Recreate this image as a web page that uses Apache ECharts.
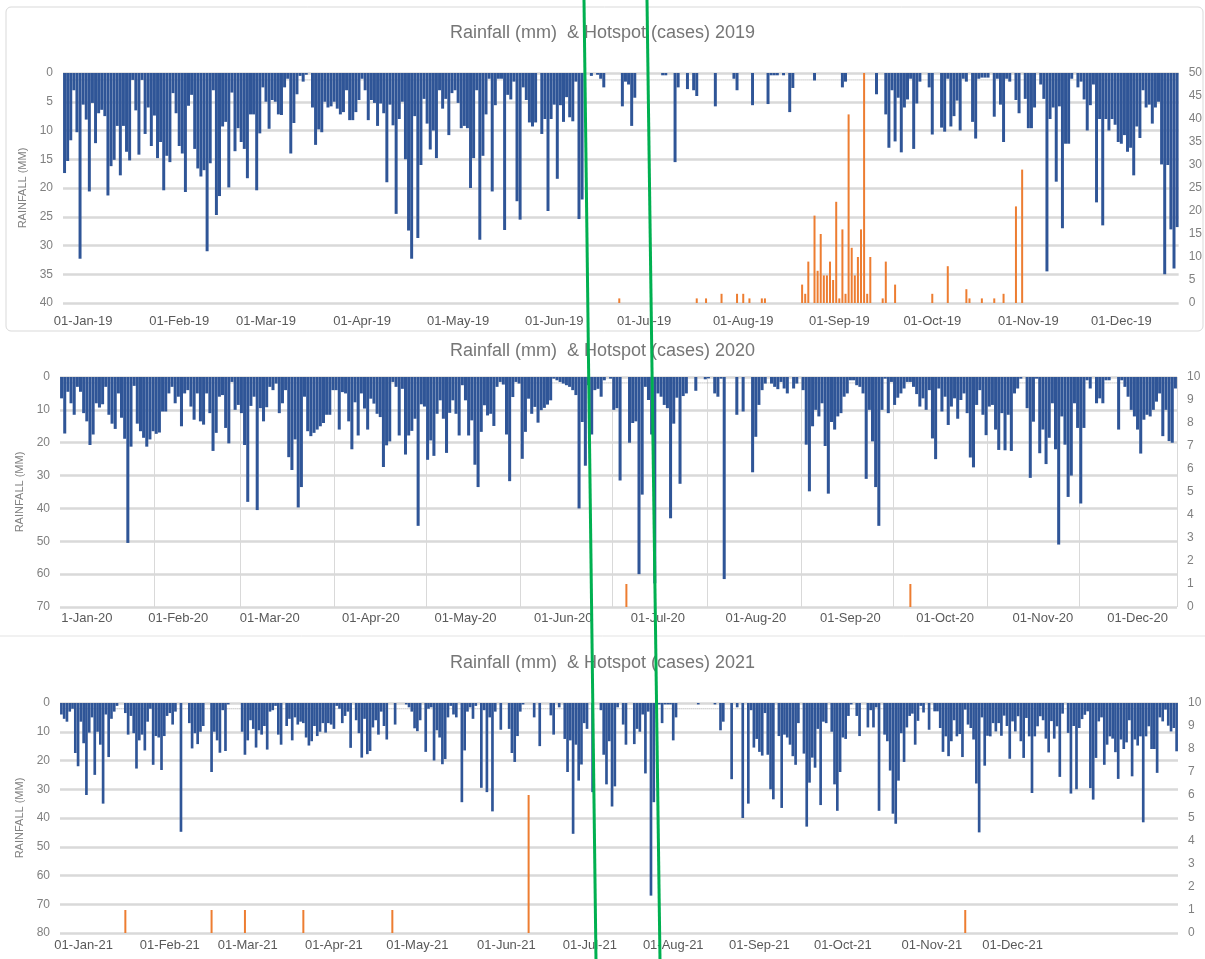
<!DOCTYPE html>
<html>
<head>
<meta charset="utf-8">
<script src="https://cdn.jsdelivr.net/npm/echarts@6.0.0/dist/echarts.min.js"></script>
<style>
  html, body { margin: 0; padding: 0; background: #fff; }
  #chart { width: 1205px; height: 959px; }
</style>
</head>
<body>
<div id="chart"></div>
<script>
// daily rainfall (mm), one value per day on the category axis
const rain2019 = [
  17.4, 15.3, 11.7, 3, 10.3, 32.3, 5.5, 8.1, 20.6, 5.2,
  12.2, 7, 6.4, 7.5, 21.3, 16.2, 15.1, 9.2, 17.8, 9.2,
  13.7, 15.2, 1.2, 6.5, 14.2, 1.2, 10.6, 6, 12.7, 7.4,
  14.8, 12, 20.4, 14.4, 15.5, 3.5, 7, 12.7, 14, 20.7,
  5.7, 3.8, 13.2, 16.6, 18, 16.9, 31, 15.7, 3, 24.7,
  21.4, 9.3, 8.5, 19.9, 3.4, 13.6, 9.6, 12, 13.2, 18.3,
  7.2, 7.2, 20.4, 10.5, 2.5, 5, 9.7, 4.7, 5, 7.2,
  7.3, 2.5, 1, 14, 8.7, 3.7, 0.5, 1.5, 0.3, 0,
  6, 12.5, 9.8, 10.3, 5, 6, 5.8, 5, 6.2, 7.2,
  6.8, 3, 8.2, 8.2, 6.8, 4.7, 1, 3, 8.2, 4.7,
  5.2, 9.2, 5.3, 7, 19, 5.5, 9.1, 24.5, 8, 5,
  15, 27.4, 32.3, 7.5, 28.7, 16, 4.5, 8.8, 13.3, 10,
  14.8, 3, 6.2, 4.5, 10.8, 3.5, 3, 5.2, 9.6, 9.2,
  9.6, 20, 14.8, 3, 29, 14.4, 7.2, 1, 20.6, 5.6,
  1, 1, 27.3, 3.8, 4.6, 1.5, 22.3, 25.5, 2.5, 4.7,
  8.6, 9.3, 8.6, 0, 10.6, 8, 24, 8, 5.5, 18.4,
  5.6, 8.5, 4.2, 7.7, 8.4, 1.5, 25.4, 22, 0, 0,
  0.5, 0, 0.3, 1, 2.5, 0, 0, 0, 0, 0,
  5.8, 1.5, 2, 9.2, 4.3, 0, 0, 0, 0, 0,
  0, 0, 0, 0.4, 0.4, 0, 0, 15.5, 2.5, 0,
  0, 2.8, 0, 3, 4, 0, 0, 0, 0, 0,
  5.8, 0, 0, 0, 0, 0, 1, 3, 0, 0,
  0, 0, 5.6, 0, 0, 0, 0, 5.4, 0.4, 0.4,
  0.4, 0, 0.4, 0, 6.8, 2.6, 0, 0, 0, 0,
  0, 0, 1.3, 0, 0, 0, 0, 0, 0, 0,
  0, 2.5, 1.5, 0, 0, 0, 0, 0, 0, 0,
  0, 0, 3.7, 0, 0, 7.2, 13, 3, 11.9, 4.3,
  13.8, 6, 4.6, 1, 13.2, 5.3, 1.5, 0, 0, 2.5,
  10.7, 0, 0, 9.5, 10.2, 1, 9.3, 7.5, 4.8, 10,
  1, 1.5, 0, 8.5, 11.4, 1, 0.8, 0.8, 0.8, 0,
  7.6, 1, 5.5, 12, 1, 1.5, 0, 4.7, 7, 0,
  4.5, 9.6, 9.6, 6, 0, 2, 4.5, 34.5, 8, 6,
  18.9, 5.8, 27, 12.3, 12.3, 1, 0, 2.5, 1.5, 4.6,
  10, 5.6, 2, 22.5, 8, 26.5, 8, 10, 8, 9,
  12, 12.3, 10.8, 13.7, 13, 17.8, 9.3, 11.3, 3, 6,
  5.5, 8.8, 6, 5, 15.9, 35, 16, 27.2, 34, 26.8
];
const rain2020 = [
  6.5, 17.2, 4.5, 8, 11.5, 3, 4.5, 11, 13.5, 20.7,
  17.5, 8, 9.3, 8.3, 3, 11.5, 14.2, 15.8, 5, 12.4,
  18.8, 50.5, 21.2, 2.7, 14.2, 16.5, 18.5, 21.2, 19, 16.5,
  17.3, 16.9, 10.5, 10.5, 5, 3, 8, 6, 15, 5,
  4, 9, 13, 5, 13.5, 14.5, 5, 11, 22.5, 17,
  6, 5.5, 15.5, 20.2, 1.5, 10, 8.5, 11, 20.7, 38,
  8.8, 6, 40.5, 9.5, 13.5, 9.2, 3, 4, 2, 11,
  8, 4, 24.4, 28.3, 19, 39.7, 33.5, 6, 16.5, 18,
  17, 16, 15, 14, 11.5, 11.5, 4, 4, 16, 4.6,
  5, 13.5, 22, 7.7, 17.8, 5, 9.6, 16, 6.6, 8.1,
  11.2, 12.2, 27.4, 20.8, 19.6, 1.5, 3, 17.8, 3.6, 23.6,
  17.8, 16.4, 12.7, 45.3, 8.3, 9, 25.2, 19.3, 24, 11.2,
  7.1, 12.7, 23.1, 10.9, 7.1, 11.2, 17.8, 2.5, 7.1, 17.8,
  13.2, 26.7, 33.5, 16.7, 8.6, 11.7, 11.2, 14.9, 3, 1.5,
  2.3, 17.5, 31.7, 6.1, 1.5, 2, 24.9, 16.7, 6.6, 11.2,
  9.1, 13.9, 10.1, 9.4, 8.4, 7.1, 0.5, 1, 1.5, 2,
  2.5, 3, 4, 5.5, 40, 13.7, 27, 2.5, 17.5, 4,
  3.6, 6, 1, 0, 0.5, 10, 9.5, 31.5, 0, 0,
  20, 14, 13.5, 60, 35.8, 3, 7, 17.5, 62.8, 5,
  6, 8.5, 9.5, 43, 14.2, 6.3, 32.5, 5.8, 5, 0,
  0, 4.2, 0, 0, 0.7, 0.4, 0, 5, 6, 0.5,
  61.5, 0, 0, 0, 11.5, 0, 10.5, 0, 0, 29,
  18.2, 8.5, 4, 2, 0, 2, 3, 3.7, 1.5, 3.5,
  5, 0, 3.5, 2, 0, 4, 20.6, 34.8, 15, 10,
  12, 8, 21, 35.5, 13.7, 16, 12, 11, 6, 5,
  1, 1, 2.5, 3, 5, 31, 10, 19.6, 33.5, 45.3,
  10, 0.5, 11, 1.5, 8.5, 6.3, 5, 3.5, 1.5, 1.5,
  3, 5.2, 9, 6.5, 10, 4, 18.7, 25, 3.5, 10.5,
  6, 14.6, 9, 6.5, 12.7, 7, 5, 11, 24.5, 27.5,
  8.5, 4, 11.5, 17.7, 9, 8.5, 16, 22.2, 11, 22.3,
  11.5, 22.5, 5, 3.5, 0.5, 0, 9.5, 30.7, 13.6, 0.5,
  23.2, 16, 26.5, 18.5, 8, 22, 51, 12, 20.6, 36.5,
  30, 8, 15.5, 38.5, 15.5, 1, 3.5, 0, 8, 6.5,
  8, 1, 1, 0, 0, 16, 1, 3, 6, 10,
  12, 16, 23.3, 13, 11.5, 12, 10, 7.5, 5, 18,
  10, 19.5, 20, 3.5
];
const rain2021 = [
  4, 5.5, 6.5, 3, 2, 17.4, 22, 6.5, 14, 32,
  10.3, 5, 25, 10, 14.5, 35, 4, 18.8, 5.5, 3,
  1, 0, 0, 3.5, 11, 4.5, 10.5, 22.8, 13, 11,
  16.5, 6.5, 2, 21.5, 11.5, 12, 23.3, 11.5, 4.5, 3.5,
  7.5, 3, 0, 44.8, 0, 0, 7, 15.8, 10.5, 14.3,
  10, 8, 0, 0, 24, 10, 13, 17.3, 2.5, 16.7,
  0.5, 0, 0, 0, 0, 10, 18, 13, 6, 9,
  15.5, 9.5, 11, 8, 16.2, 3, 2.5, 1, 11, 14.5,
  0, 8, 5.5, 13, 5, 7.5, 6.5, 7, 12, 14.8,
  13.3, 8, 11.5, 10, 7, 10.3, 7, 7.5, 9, 1,
  2, 7, 4.5, 3, 15.6, 0, 6, 10.5, 19, 5.5,
  17.8, 16.7, 8.5, 6, 11, 3, 8, 12.7, 0, 0,
  7.5, 0, 0, 0, 0.5, 1.5, 3, 8.8, 9.8, 6,
  0, 17, 2, 1.5, 20, 9.5, 12, 21.3, 19.5, 5,
  1, 4, 5, 0, 34.5, 16.5, 3, 1.5, 5.5, 1,
  0, 29.5, 2.5, 31, 5, 37.7, 3, 0, 9.3, 0,
  0, 9, 17.4, 20.5, 11.5, 3, 0.5, 0, 0, 0,
  5, 0, 15, 0, 0, 0, 4.3, 11, 0, 1.5,
  0, 12.5, 24, 13, 45.5, 14.5, 27, 21.4, 7, 9,
  0, 31, 0, 0, 2.5, 18, 28.3, 13.3, 36, 29,
  1.5, 0, 7.5, 14.5, 0, 0, 14.3, 9, 10, 4,
  24.5, 3, 67, 34.5, 0, 0.5, 7, 0.5, 0.5, 0.5,
  13, 5, 0, 0, 0, 0, 0, 0, 0, 0.5,
  0, 0, 0, 0, 0, 0.5, 0, 9.5, 6.5, 0,
  0, 26.5, 0, 1.5, 0, 40, 0, 35, 2.5, 15.5,
  12.5, 17, 18.3, 3.5, 18, 30, 33.5, 0, 11.5, 36.5,
  11, 12, 14.5, 18.5, 21.5, 7, 0, 17.6, 43, 27.7,
  19, 22.5, 9, 35.5, 6.5, 7, 0, 10, 28.3, 37.5,
  24, 12, 12.5, 4.5, 0.5, 0, 4.5, 11.5, 0, 0,
  8.5, 2.5, 8.5, 1.5, 37.5, 0, 11, 13.3, 23.5, 38.5,
  42, 27, 10.5, 20.5, 8.5, 4.5, 3.7, 14.5, 6.2, 1,
  3.3, 0, 9.3, 0, 2.9, 2.9, 8.7, 17, 11.6, 18.5,
  13.3, 6, 11.6, 10.8, 18.8, 2.3, 7.5, 8.7, 12.7, 28,
  45, 5, 21.8, 11.4, 11.6, 7, 9.9, 7, 11.4, 4.4,
  8, 19.4, 6.4, 9.9, 4.6, 13.3, 19.1, 5.2, 11.6, 31.3,
  11.6, 8.1, 4.6, 6, 12.4, 17.2, 6.3, 12.4, 8.1, 25.7,
  3.7, 0, 10.4, 31.5, 8, 30, 8.7, 5.6, 4.1, 2.9,
  29.6, 33.6, 19.1, 6.4, 5, 21.5, 14.5, 11.6, 12.4, 17.1,
  26.4, 12.7, 16, 13.7, 6, 25.5, 12.7, 14.8, 11.6, 41.5,
  11.6, 8.1, 16, 16, 24.3, 5, 6.4, 2.3, 7.9, 9.9,
  8.7, 16.8
];

// hotspot cases: day index on the category axis and number of cases
const hotDays2019 = [179, 204, 207, 212, 217, 219, 221, 225, 226, 238, 239, 240, 242, 243, 244, 245, 246, 247, 248, 249, 250, 251, 252, 253, 254, 255, 256, 257, 258, 259, 260, 264, 265, 268, 280, 285, 291, 292, 296, 300, 303, 307, 309];
const hotCases2019 = [1, 1, 1, 2, 2, 2, 1, 1, 1, 4, 2, 9, 19, 7, 15, 6, 6, 9, 5, 22, 1, 16, 2, 41, 12, 6, 10, 16, 50, 2, 10, 1, 9, 4, 2, 8, 3, 1, 1, 1, 2, 21, 29];
const hotDays2020 = [179, 269];
const hotCases2020 = [1, 1];
const hotDays2021 = [23, 54, 66, 87, 119, 168, 325];
const hotCases2021 = [1, 1, 1, 1, 1, 6, 1];

// x tick labels and the day index they sit on
const tickIdx2019 = [6, 37, 65, 96, 127, 158, 187, 219, 250, 280, 311, 341];
const tickText2019 = ['01-Jan-19', '01-Feb-19', '01-Mar-19', '01-Apr-19', '01-May-19', '01-Jun-19', '01-Jul-19', '01-Aug-19', '01-Sep-19', '01-Oct-19', '01-Nov-19', '01-Dec-19'];
const tickIdx2020 = [8, 37, 66, 98, 128, 159, 189, 220, 250, 280, 311, 341];
const tickText2020 = ['1-Jan-20', '01-Feb-20', '01-Mar-20', '01-Apr-20', '01-May-20', '01-Jun-20', '01-Jul-20', '01-Aug-20', '01-Sep-20', '01-Oct-20', '01-Nov-20', '01-Dec-20'];
const tickIdx2021 = [8, 39, 67, 98, 128, 160, 190, 220, 251, 281, 313, 342];
const tickText2021 = ['01-Jan-21', '01-Feb-21', '01-Mar-21', '01-Apr-21', '01-May-21', '01-Jun-21', '01-Jul-21', '01-Aug-21', '01-Sep-21', '01-Oct-21', '01-Nov-21', '01-Dec-21'];

// vertical gridlines of the 2020 panel (category boundaries)
const vGrid2020 = [30, 57, 87, 116, 146, 175, 205, 235, 264, 294, 323];
// level of the dotted grey reference line near zero (mm)
const dotLevel = [1.2, 1.8, 2.0];

const BLUE = '#2f5597';
const ORANGE = '#ed7d31';
const GRID = '#d9d9d9';
const FONT = '"Liberation Sans", Arial, sans-serif';

const panels = [
  { year: 2019, rain: rain2019, hotDays: hotDays2019, hotCases: hotCases2019, ticks: tickIdx2019, texts: tickText2019,
    left: 63, top: 73, width: 1116, rainMax: 40, rainStep: 5, hotMax: 50, hotStep: 5, titleTop: 19, labelMargin: 12, vGrid: null },
  { year: 2020, rain: rain2020, hotDays: hotDays2020, hotCases: hotCases2020, ticks: tickIdx2020, texts: tickText2020,
    left: 60, top: 377, width: 1117, rainMax: 70, rainStep: 10, hotMax: 10, hotStep: 1, titleTop: 337, labelMargin: 5, vGrid: vGrid2020 },
  { year: 2021, rain: rain2021, hotDays: hotDays2021, hotCases: hotCases2021, ticks: tickIdx2021, texts: tickText2021,
    left: 60, top: 703, width: 1118, rainMax: 80, rainStep: 10, hotMax: 10, hotStep: 1, titleTop: 649, labelMargin: 6, vGrid: null }
];

const option = {
  animation: false,
  backgroundColor: '#fff',
  textStyle: { fontFamily: FONT },
  title: [], grid: [], xAxis: [], yAxis: [], series: [],
  graphic: []
};

panels.forEach((p, i) => {
  const n = p.rain.length;
  const cats = p.rain.map((_, k) => String(k));
  const labelAt = {};
  p.ticks.forEach((k, j) => { labelAt[k] = p.texts[j]; });
  const vSet = new Set(p.vGrid || []);

  option.title.push({
    text: 'Rainfall (mm)  & Hotspot (cases) ' + p.year,
    left: 'center', top: p.titleTop,
    textStyle: { color: '#767676', fontSize: 18, fontWeight: 'normal', fontFamily: FONT }
  });
  option.grid.push({ left: p.left, top: p.top, width: p.width, height: 230 });

  option.xAxis.push({
    type: 'category', gridIndex: i, data: cats,
    axisLine: { show: false }, axisTick: { show: false },
    axisLabel: {
      interval: (k) => labelAt[k] !== undefined,
      formatter: (v, k) => labelAt[k] || '',
      color: '#595959', fontSize: 13, margin: p.labelMargin, fontFamily: FONT
    },
    splitLine: {
      show: !!p.vGrid,
      interval: (k) => vSet.has(k),
      lineStyle: { color: GRID, width: 1 }
    }
  });
  option.xAxis.push({
    type: 'category', gridIndex: i, data: cats, show: false
  });

  option.yAxis.push({
    type: 'value', gridIndex: i, inverse: true, min: 0, max: p.rainMax, interval: p.rainStep,
    name: 'RAINFALL (MM)', nameLocation: 'middle', nameGap: 30,
    nameTextStyle: { color: '#808080', fontSize: 11, fontFamily: FONT },
    axisLine: { show: false }, axisTick: { show: false },
    axisLabel: { color: '#808080', fontSize: 12, margin: 10, fontFamily: FONT },
    splitLine: { lineStyle: { color: GRID, width: 2.5 } }
  });
  option.yAxis.push({
    type: 'value', gridIndex: i, position: 'right', min: 0, max: p.hotMax, interval: p.hotStep,
    axisLine: { show: false }, axisTick: { show: false },
    axisLabel: { color: '#808080', fontSize: 12, margin: 10, fontFamily: FONT },
    splitLine: { show: false }
  });

  option.series.push({
    type: 'line', xAxisIndex: 2 * i, yAxisIndex: 2 * i, silent: true, symbol: 'none', z: 1,
    data: [[0, dotLevel[i]], [n - 1, dotLevel[i]]],
    lineStyle: { color: '#a6a6a6', width: 1, type: 'dotted' }
  });
  option.series.push({
    name: 'Rainfall', type: 'bar', xAxisIndex: 2 * i, yAxisIndex: 2 * i, z: 2,
    data: p.rain, barCategoryGap: '4%',
    itemStyle: { color: BLUE }
  });
  option.series.push({
    name: 'Hotspot', type: 'bar', xAxisIndex: 2 * i + 1, yAxisIndex: 2 * i + 1, z: 3,
    data: p.hotDays.map((d, j) => [d, p.hotCases[j]]), barWidth: 2,
    itemStyle: { color: ORANGE }
  });
});

// chart frame of the first panel, separator, and the two green marker lines
option.graphic = [
  { type: 'rect', shape: { x: 6, y: 7, width: 1197, height: 324, r: 5 }, style: { fill: 'none', stroke: GRID, lineWidth: 1 }, silent: true },
  { type: 'line', shape: { x1: 0, y1: 636, x2: 1205, y2: 636 }, style: { stroke: '#e3e3e3', lineWidth: 1 }, silent: true },
  { type: 'line', z: 100, shape: { x1: 584, y1: 0, x2: 596, y2: 959 }, style: { stroke: '#00b050', lineWidth: 3 }, silent: true },
  { type: 'line', z: 100, shape: { x1: 647, y1: 0, x2: 660, y2: 959 }, style: { stroke: '#00b050', lineWidth: 3 }, silent: true }
];

const chart = echarts.init(document.getElementById('chart'), null, { renderer: 'canvas' });
chart.setOption(option);
</script>
</body>
</html>
